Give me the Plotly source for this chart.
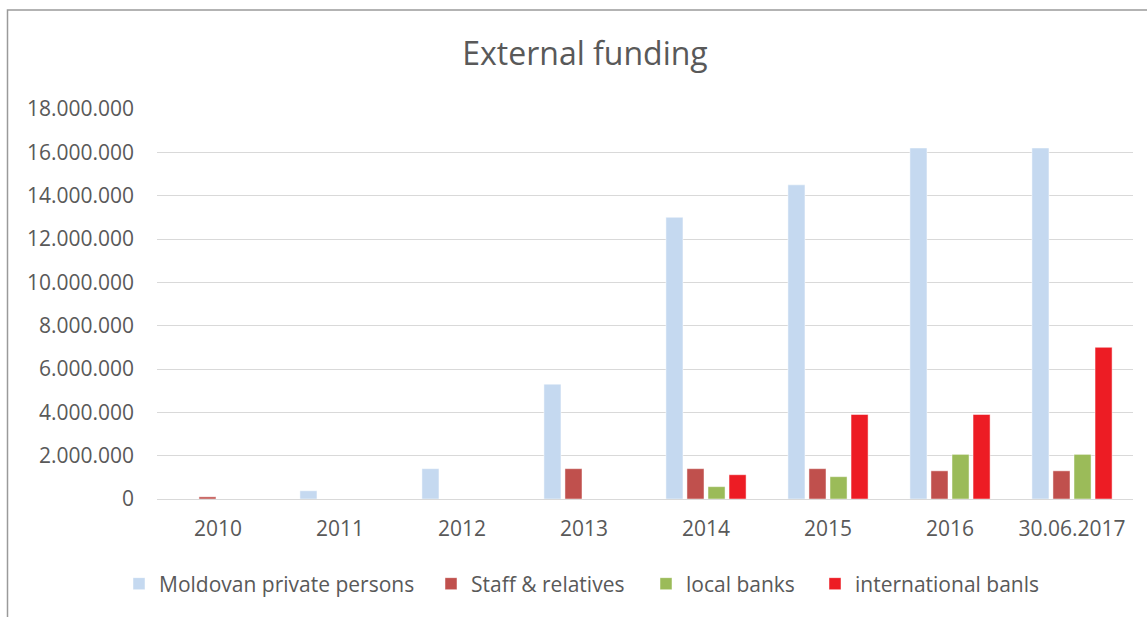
import plotly.graph_objects as go

# Funding sources by period
categories = ["2010", "2011", "2012", "2013", "2014", "2015", "2016", "30.06.2017"]
private_persons = [0, 380000, 1400000, 5300000, 13000000, 14500000, 16200000, 16200000]
staff_relatives = [100000, 0, 0, 1400000, 1400000, 1400000, 1300000, 1300000]
local_banks = [0, 0, 0, 0, 570000, 1030000, 2060000, 2060000]
international_banks = [0, 0, 0, 0, 1120000, 3900000, 3900000, 7000000]

series = [
    ("Moldovan private persons", private_persons, "#C5D9F0"),
    ("Staff & relatives", staff_relatives, "#C0504D"),
    ("local banks", local_banks, "#9BBB59"),
    ("international banls", international_banks, "#ED1C24"),
]

W, H = 1147, 617
L, R, T, B = 157, 1133, 109, 499
TEXT = "#595959"
FONT = "Open Sans"
pw, ph = R - L, B - T

# left edge (px) of each legend entry, so entries sit at their own spacing
legend_left_px = [119, 431, 646, 815]
legend_names = ["legend", "legend2", "legend3", "legend4"]

fig = go.Figure()
for (name, vals, color), lg in zip(series, legend_names):
    fig.add_trace(go.Bar(
        name=name, x=categories, y=vals, legend=lg,
        marker=dict(color=color, line=dict(color="rgba(255,255,255,0.6)", width=0.8)),
    ))

# outer chart frame (extends past the right and bottom edges)
fig.add_shape(
    type="rect", xref="paper", yref="paper",
    x0=(7.5 - L) / pw, x1=(1160 - L) / pw,
    y0=(B - 640) / ph, y1=(B - 10) / ph,
    line=dict(color="#9A9A9A", width=1.5), fillcolor="rgba(0,0,0,0)", layer="below",
)

legend_style = dict(orientation="h", xanchor="left", yanchor="middle",
                    y=(B - 584) / ph, itemwidth=30, bgcolor="rgba(0,0,0,0)",
                    font=dict(family=FONT, size=21, color=TEXT))
legends = {lg: dict(legend_style, x=(px - L) / pw)
           for lg, px in zip(legend_names, legend_left_px)}

fig.update_layout(
    width=W, height=H,
    margin=dict(l=L, r=W - R, t=T, b=H - B, pad=0),
    paper_bgcolor="white", plot_bgcolor="white",
    separators=",.",
    barmode="group", bargap=0.31, bargroupgap=0.19,
    font=dict(family=FONT, color=TEXT, size=21),
    title=dict(text="External funding", x=585 / W, xanchor="center",
               y=1 - 54 / H, yanchor="middle",
               font=dict(family=FONT, size=32, color=TEXT)),
    showlegend=True,
    **legends,
)
fig.update_xaxes(type="category", showgrid=False, showline=False, ticks="",
                 ticklabelstandoff=15, tickfont=dict(size=21, color=TEXT))
fig.update_yaxes(range=[0, 18000000], dtick=2000000, tickformat=",d",
                 showgrid=True, gridcolor="#D9D9D9", gridwidth=1.3,
                 zeroline=True, zerolinecolor="#D9D9D9", zerolinewidth=1.3,
                 showline=False, ticks="", ticklabelstandoff=22,
                 tickfont=dict(size=21, color=TEXT))

fig.write_html("out.html")
